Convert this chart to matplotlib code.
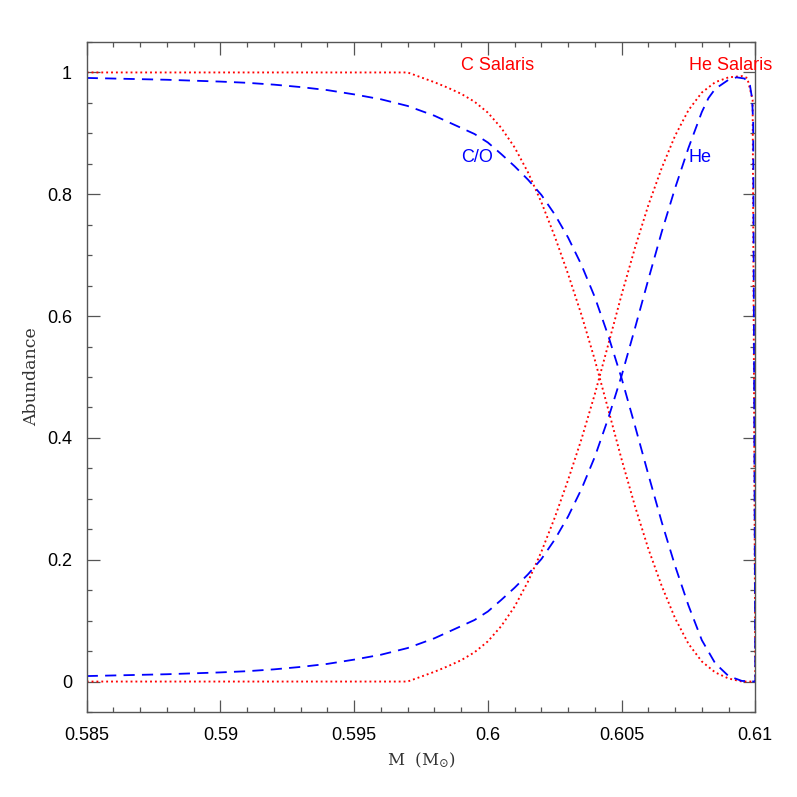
import matplotlib
matplotlib.use("Agg")
import matplotlib.pyplot as plt
from matplotlib.ticker import MultipleLocator

plt.rcParams["mathtext.fontset"] = "dejavuserif"

# ---- data ----
co_x = [0.5850, 0.5880, 0.5900, 0.5910, 0.5920, 0.5930, 0.5940, 0.5950, 0.5960,
        0.5970, 0.5975, 0.5980, 0.5985, 0.5990, 0.5995, 0.6000, 0.6005, 0.6010,
        0.6015, 0.6020, 0.6025, 0.6030, 0.6035, 0.6040, 0.6045, 0.6050, 0.6055,
        0.6060, 0.6065, 0.6070, 0.6075, 0.6080, 0.6085, 0.6090, 0.6095, 0.6100]
co_y = [0.991, 0.988, 0.985, 0.983, 0.980, 0.976, 0.971, 0.964, 0.956,
        0.945, 0.937, 0.929, 0.919, 0.909, 0.899, 0.885, 0.866, 0.846,
        0.824, 0.799, 0.767, 0.729, 0.684, 0.631, 0.568, 0.498, 0.420,
        0.340, 0.262, 0.190, 0.125, 0.068, 0.030, 0.009, 0.001, 0.000]

he_x = [0.5850, 0.5880, 0.5900, 0.5910, 0.5920, 0.5930, 0.5940, 0.5950, 0.5960,
        0.5970, 0.5975, 0.5980, 0.5985, 0.5990, 0.5995, 0.6000, 0.6005, 0.6010,
        0.6015, 0.6020, 0.6025, 0.6030, 0.6035, 0.6040, 0.6045, 0.6050, 0.6055,
        0.6060, 0.6065, 0.6070, 0.6075, 0.6080, 0.60825, 0.6085, 0.6090, 0.6093,
        0.6096, 0.6098, 0.60988, 0.60992, 0.60996, 0.6100]
he_y = [0.009, 0.012, 0.015, 0.017, 0.020, 0.024, 0.029, 0.036, 0.044,
        0.055, 0.063, 0.071, 0.081, 0.091, 0.101, 0.115, 0.134, 0.154,
        0.176, 0.201, 0.233, 0.271, 0.316, 0.369, 0.432, 0.502, 0.580,
        0.660, 0.738, 0.810, 0.876, 0.935, 0.958, 0.973, 0.988, 0.992,
        0.990, 0.979, 0.957, 0.918, 0.450, 0.000]

cs_x = [0.5850, 0.5970, 0.5975, 0.5980, 0.5985, 0.5990, 0.5995, 0.6000, 0.6005,
        0.6010, 0.6015, 0.6020, 0.6025, 0.6030, 0.6035, 0.6040, 0.6045, 0.6050,
        0.6055, 0.6060, 0.6065, 0.6070, 0.6075, 0.6080, 0.6085, 0.6090, 0.6095,
        0.6100]
cs_y = [1.000, 1.000, 0.992, 0.984, 0.975, 0.965, 0.952, 0.934, 0.909,
        0.877, 0.836, 0.787, 0.731, 0.669, 0.602, 0.528, 0.447, 0.365,
        0.288, 0.218, 0.157, 0.104, 0.062, 0.033, 0.015, 0.005, 0.000,
        0.000]

hs_x = [0.5850, 0.5970, 0.5975, 0.5980, 0.5985, 0.5990, 0.5995, 0.6000, 0.6005,
        0.6010, 0.6015, 0.6020, 0.6025, 0.6030, 0.6035, 0.6040, 0.6045, 0.6050,
        0.6055, 0.6060, 0.6065, 0.6070, 0.6075, 0.6080, 0.6085, 0.6090, 0.6095,
        0.6097, 0.60990, 0.60995, 0.6100]
hs_y = [0.000, 0.000, 0.008, 0.016, 0.025, 0.035, 0.048, 0.066, 0.091,
        0.123, 0.164, 0.213, 0.269, 0.331, 0.398, 0.472, 0.553, 0.635,
        0.712, 0.782, 0.843, 0.896, 0.938, 0.967, 0.984, 0.992, 0.994,
        0.991, 0.955, 0.500, 0.000]

x_ticks = [0.585, 0.59, 0.595, 0.6, 0.605, 0.61]
x_ticklabels = ["0.585", "0.59", "0.595", "0.6", "0.605", "0.61"]
y_ticks = [0, 0.2, 0.4, 0.6, 0.8, 1.0]
y_ticklabels = ["0", "0.2", "0.4", "0.6", "0.8", "1"]

# ---- figure ----
fig = plt.figure(figsize=(7.97, 7.97), dpi=100)
ax = fig.add_axes([86.7 / 797, 1 - 712 / 797, (755.3 - 86.7) / 797, (712 - 42) / 797])

dot = (0, (1.0, 1.6))
dash = (0, (6.2, 4.0))
ax.plot(cs_x, cs_y, color="#ff0000", lw=1.35, linestyle=dot)
ax.plot(hs_x, hs_y, color="#ff0000", lw=1.35, linestyle=dot)
ax.plot(co_x, co_y, color="#0000ff", lw=1.3, linestyle=dash)
ax.plot(he_x, he_y, color="#0000ff", lw=1.3, linestyle=dash)

ax.set_xlim(0.585, 0.610)
ax.set_ylim(-0.05, 1.05)

ax.set_xticks(x_ticks)
ax.set_xticklabels(x_ticklabels)
ax.set_yticks(y_ticks)
ax.set_yticklabels(y_ticklabels)
ax.xaxis.set_minor_locator(MultipleLocator(0.001))
ax.yaxis.set_minor_locator(MultipleLocator(0.05))

tick_col = "#555555"
ax.tick_params(which="both", direction="in", top=True, right=True, color=tick_col, width=0.9)
ax.tick_params(which="major", length=9, pad=10.5, labelsize=13, labelcolor="black")
ax.tick_params(which="minor", length=3.6)
for lab in ax.get_xticklabels() + ax.get_yticklabels():
    lab.set_fontfamily("Liberation Sans")
for s in ax.spines.values():
    s.set_color(tick_col)
    s.set_linewidth(1.0)

ax.set_xlabel(r"M  (M$_{\odot}$)", fontfamily="DejaVu Serif", fontsize=12, color="#333333", labelpad=5)
ax.set_ylabel("Abundance", fontfamily="DejaVu Serif", fontsize=12.5, color="#333333", labelpad=5)

txt = dict(fontfamily="Liberation Sans", fontsize=13, ha="center", va="center")
ax.text(0.60038, 1.011, "C Salaris", color="#ff0000", **txt)
ax.text(0.60907, 1.011, "He Salaris", color="#ff0000", **txt)
ax.text(0.59961, 0.861, "C/O", color="#0000ff", **txt)
ax.text(0.60793, 0.861, "He", color="#0000ff", **txt)

fig.savefig("out.png", dpi=100)
